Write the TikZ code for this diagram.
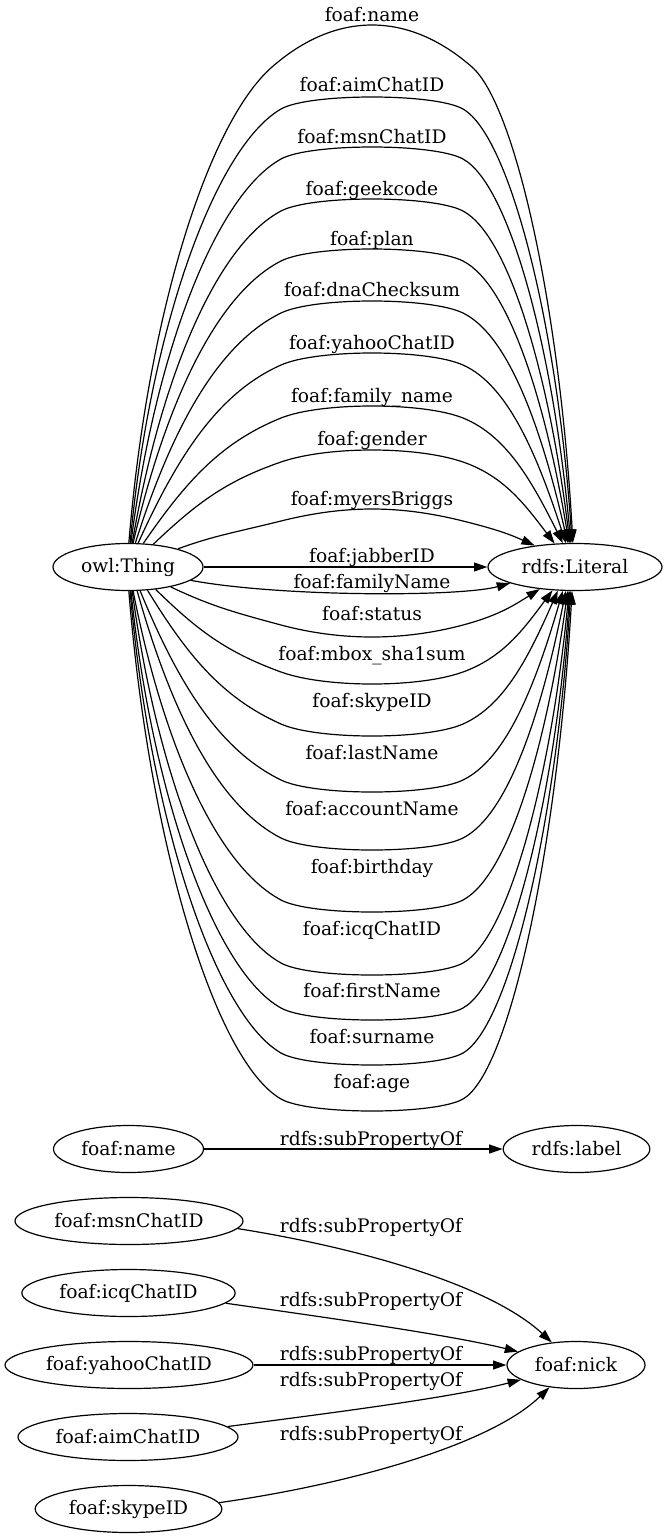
\documentclass[tikz,border=0pt]{standalone}
\usepackage{fontspec}
\setmainfont{DejaVu Serif}
\usetikzlibrary{arrows.meta,shapes.geometric}

\tikzset{
  nd/.style={draw, ellipse, line width=0.9pt, inner sep=0pt, minimum height=35.25pt, font=\fontsize{14}{16}\selectfont},
  lbl/.style={inner sep=0pt, anchor=base, font=\fontsize{14}{16}\selectfont},
  conn/.style={draw, line width=0.9pt, -{Triangle[length=10pt,width=6.7pt]}},
}

% #1 label node name, #2 text, #3 start x, #4 end x, #5 apex y, #6 angle at flank, #7 side (1 top,-1 bottom), #8 label y
\newcommand\arcedge[8]{%
  \pgfmathsetmacro\qsy{567-(#7)*23.5*sqrt(1-((#3-128)/75)^2)}%
  \pgfmathsetmacro\qey{567-(#7)*23.5*sqrt(1-((#4-575)/87)^2)}%
  \pgfmathtruncatemacro\qaS{round(atan2(567-\qsy,#3-128))}%
  \pgfmathtruncatemacro\qaE{round(atan2(567-\qey,#4-575))}%
  \pgfmathsetmacro\qLy{#5+(#7)*12}%
  \pgfmathsetmacro\qhL{abs(\qsy-\qLy)}%
  \pgfmathsetmacro\qwL{281-#3}%
  \pgfmathsetmacro\qhR{abs(\qey-\qLy)}%
  \pgfmathsetmacro\qwR{#4-463}%
  \pgfmathsetmacro\qca{#3+0.13*\qwL+0.25*\qwL*(1-min(\qhL,433)/433)}%
  \pgfmathsetmacro\qcb{\qsy-(#7)*0.49*\qhL}%
  \pgfmathsetmacro\qcc{281-0.44*\qwL}%
  \pgfmathsetmacro\qcd{\qLy+(#7)*0.44*\qwL*tan(#6)}%
  \pgfmathsetmacro\qdx{16/tan(#6)}%
  \pgfmathsetmacro\qce{\qLy-(#7)*16}%
  \pgfmathsetmacro\qcf{463+0.44*\qwR}%
  \pgfmathsetmacro\qcg{\qLy+(#7)*0.44*\qwR*tan(#6)}%
  \pgfmathsetmacro\qch{#4-0.13*\qwR-0.25*\qwR*(1-min(\qhR,433)/433)}%
  \pgfmathsetmacro\qci{\qey-(#7)*0.49*\qhR}%
  \draw[conn] (thing.\qaS) .. controls (\qca,\qcb) and (\qcc,\qcd) .. (281,\qLy)
     .. controls ({281+\qdx},\qce) and ({463-\qdx},\qce) .. (463,\qLy)
     .. controls (\qcf,\qcg) and (\qch,\qci) .. (literal.\qaE);
  \node[lbl] (#1) at (372,#8+7) {#2};
}

\begin{document}
\begin{tikzpicture}[x=0.75pt,y=-0.75pt]
\fill[white] (0,0) rectangle (664,1539);
\useasboundingbox (0,0) rectangle (664,1539);

% main nodes
\node[nd, minimum width=112.5pt] (thing) at (128,567) {owl:Thing};
\node[nd, minimum width=130.5pt] (literal) at (575,567) {rdfs:Literal};

% top edges
\draw[conn] (thing.88) .. controls (148,311) and (209,122) .. (272,67)
   .. controls (336,11) and (408,11) .. (472,67)
   .. controls (516,106) and (560,311) .. (literal.95);
\node[lbl] (lname) at (372,21) {foaf:name};
\arcedge{laim}{foaf:aimChatID}{130}{572}{97}{30}{1}{84}
\arcedge{lmsn}{foaf:msnChatID}{131}{571}{147}{29}{1}{136}
\arcedge{lgeek}{foaf:geekcode}{132}{570}{199}{28}{1}{188}
\arcedge{lplan}{foaf:plan}{133}{569}{249}{27}{1}{238}
\arcedge{ldna}{foaf:dnaChecksum}{135}{568}{301}{26}{1}{289}
\arcedge{lyahoo}{foaf:yahooChatID}{138}{566}{353}{24}{1}{342}
\arcedge{lfamname}{foaf:family\_name}{143}{563}{406}{22}{1}{395}
\arcedge{lgender}{foaf:gender}{153}{555}{450}{19}{1}{438}
\arcedge{lmyers}{foaf:myersBriggs}{177}{535}{509}{14}{1}{498}

% straight
\draw[conn] (thing) -- (literal);
\node[lbl] (ljabber) at (372,562) {foaf:jabberID};

% lower edges
\draw[conn] (thing.-12) .. controls (280,597) and (460,597) .. (literal.194);
\node[lbl] (lfamilyName) at (372,588) {foaf:familyName};
\arcedge{lstatus}{foaf:status}{170}{540}{637}{15}{-1}{613}
\arcedge{lmbox}{foaf:mbox\_sha1sum}{155}{553}{684}{20}{-1}{653}
\arcedge{lskype}{foaf:skypeID}{147}{558}{736}{24}{-1}{700}
\arcedge{llast}{foaf:lastName}{140}{563}{792}{26}{-1}{752}
\arcedge{lacc}{foaf:accountName}{137}{566}{850}{27}{-1}{808}
\arcedge{lbirth}{foaf:birthday}{133}{568}{912}{28}{-1}{866}
\arcedge{licq}{foaf:icqChatID}{132}{569}{975}{29}{-1}{928}
\arcedge{lfirst}{foaf:firstName}{131}{570}{1020}{29}{-1}{990}
\arcedge{lsur}{foaf:surname}{130}{571}{1065}{30}{-1}{1036}
\arcedge{lage}{foaf:age}{129}{572}{1111}{30}{-1}{1081}

% lower graph
\node[nd, minimum width=112.5pt] (name2) at (128.5,1149) {foaf:name};
\node[nd, minimum width=110pt] (rlabel) at (576.5,1149) {rdfs:label};
\node[nd, minimum width=171pt] (msn) at (129,1221) {foaf:msnChatID};
\node[nd, minimum width=160pt] (icq) at (128.5,1293) {foaf:icqChatID};
\node[nd, minimum width=186pt] (yahoo) at (129,1365) {foaf:yahooChatID};
\node[nd, minimum width=165pt] (aim) at (128,1437) {foaf:aimChatID};
\node[nd, minimum width=140pt] (skype) at (128.5,1509) {foaf:skypeID};
\node[nd, minimum width=103.5pt] (nick) at (576,1365) {foaf:nick};

\draw[conn] (name2) -- (rlabel);
\node[lbl] (s1) at (371,1145) {rdfs:subPropertyOf};
\draw[conn] (msn.-4) .. controls (360,1248) and (490,1285) .. (nick.137);
\node[lbl] (s2) at (371,1232) {rdfs:subPropertyOf};
\draw[conn] (icq.-6) .. controls (330,1318) and (450,1335) .. (nick.167);
\node[lbl] (s3) at (371,1306) {rdfs:subPropertyOf};
\draw[conn] (yahoo) -- (nick);
\node[lbl] (s4) at (371,1360) {rdfs:subPropertyOf};
\draw[conn] (aim.6) .. controls (330,1413) and (450,1398) .. (nick.195);
\node[lbl] (s5) at (371,1386) {rdfs:subPropertyOf};
\draw[conn] (skype.4) .. controls (350,1484) and (490,1445) .. (nick.220);
\node[lbl] (s6) at (371,1440) {rdfs:subPropertyOf};
\end{tikzpicture}
\end{document}
